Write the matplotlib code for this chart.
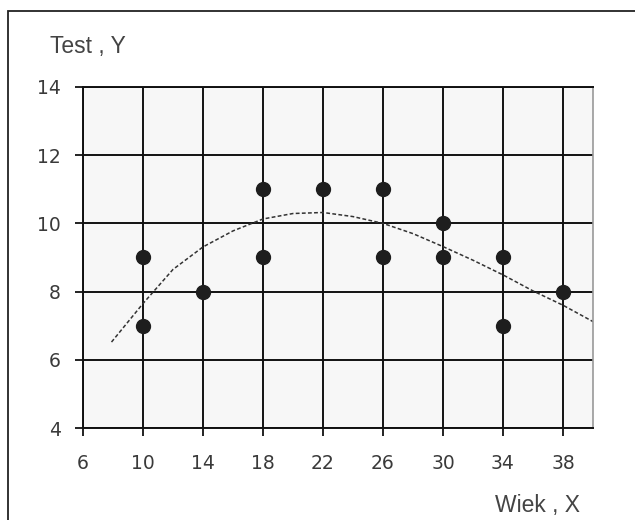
import matplotlib.pyplot as plt
from matplotlib.patches import Rectangle

# punkty pomiarowe (wiek X, test Y)
wiek = [10, 10, 14, 18, 18, 22, 26, 26, 30, 30, 34, 34, 38]
test = [9, 7, 8, 11, 9, 11, 11, 9, 10, 9, 9, 7, 8]

# linia trendu
trend_x = [7.9, 10, 12, 14, 16, 18, 20, 22, 24, 26, 28, 30, 32, 34, 36, 38, 40]
trend_y = [6.52, 7.65, 8.65, 9.31, 9.78, 10.13, 10.29, 10.32, 10.2, 10.0, 9.7, 9.32, 8.92, 8.49, 8.02, 7.6, 7.12]

xticks = [6, 10, 14, 18, 22, 26, 30, 34, 38]
yticks = [4, 6, 8, 10, 12, 14]

fig = plt.figure(figsize=(6.35, 5.2), dpi=100)
fig.patches.append(Rectangle((8/635, -0.1), 1.2, 1 - 11/520 + 0.1, transform=fig.transFigure,
                             fill=False, edgecolor='#222222', linewidth=1.3))

ax = fig.add_axes([83/635, 1 - 428/520, 510/635, 341/520])
ax.set_facecolor('#f7f7f7')
ax.set_xlim(6, 40)
ax.set_ylim(4, 14)

for x in xticks:
    ax.axvline(x, color='#111111', lw=1.4, zorder=1)
for y in yticks:
    ax.axhline(y, color='#111111', lw=1.4, zorder=1)

ax.plot(trend_x, trend_y, color='#333333', lw=1.1, ls=(0, (2.5, 1.5)), zorder=2)
ax.plot(wiek, test, 'o', color='#1e1e1e', markersize=10, zorder=3)

ax.set_xticks(xticks)
ax.set_yticks(yticks)
ax.tick_params(direction='out', length=5.8, width=1.3, color='#111111', labelsize=13.5,
               labelcolor='#3a3a3a')
ax.tick_params(axis='x', pad=13)
ax.tick_params(axis='y', pad=10)
for lab in ax.get_xticklabels() + ax.get_yticklabels():
    lab.set_family('DejaVu Sans')

for s in ['top', 'left', 'bottom']:
    ax.spines[s].set_color('#111111')
    ax.spines[s].set_linewidth(1.4)
ax.spines['right'].set_color('#999999')
ax.spines['right'].set_linewidth(1.2)

fig.text(50/635, 1 - 52.5/520, 'Test , Y', family='Liberation Sans', fontsize=16.5,
         color='#444444', va='baseline', ha='left')
fig.text(580/635, 1 - 512/520, 'Wiek , X', family='Liberation Sans', fontsize=16.5,
         color='#444444', va='baseline', ha='right')

fig.savefig('out.png', dpi=100)
